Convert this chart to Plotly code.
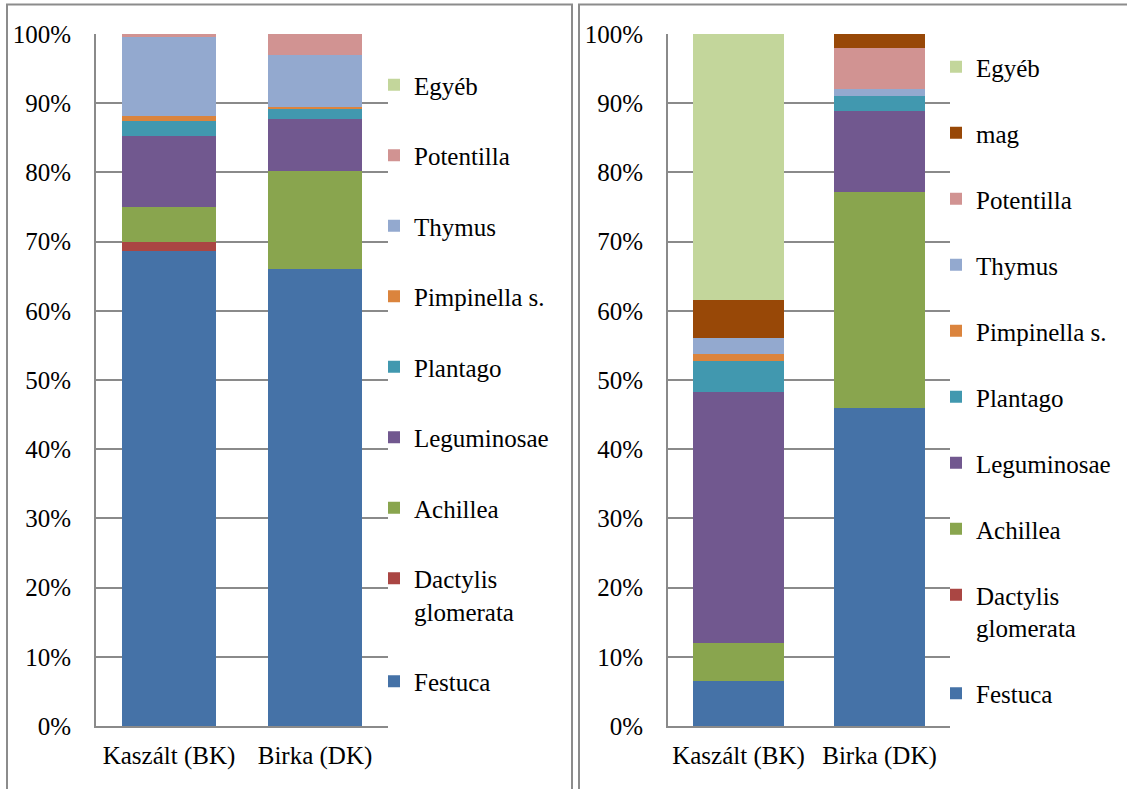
"""Botanical composition: two stacked 100% bar panels."""
import plotly.graph_objects as go

# ---- data (percent of total) ----
categories = ['Kaszált (BK)', 'Birka (DK)']

species_left = ['Festuca', 'Dactylis<br>glomerata', 'Achillea', 'Leguminosae',
                'Plantago', 'Pimpinella s.', 'Thymus', 'Potentilla', 'Egyéb']
left_kaszalt = [68.6, 1.3, 5.1, 10.2, 2.3, 0.7, 11.4, 0.4, 0.0]
left_birka   = [66.1, 0.0, 14.1, 7.5, 1.6, 0.2, 7.4, 3.1, 0.0]

species_right = ['Festuca', 'Dactylis<br>glomerata', 'Achillea', 'Leguminosae',
                 'Plantago', 'Pimpinella s.', 'Thymus', 'Potentilla', 'mag', 'Egyéb']
right_kaszalt = [6.5, 0.0, 5.5, 36.2, 4.5, 1.1, 2.2, 0.0, 5.5, 38.5]
right_birka   = [45.9, 0.0, 31.2, 11.8, 2.1, 0.0, 1.0, 6.0, 2.0, 0.0]

y_ticks = list(range(0, 101, 10))
y_ticklabels = [f'{v}%' for v in y_ticks]

COLORS = {
    'Festuca': '#4572A7', 'Dactylis<br>glomerata': '#AA4643', 'Achillea': '#89A54E',
    'Leguminosae': '#71588F', 'Plantago': '#4198AF', 'Pimpinella s.': '#DB843D',
    'Thymus': '#93A9CF', 'Potentilla': '#D19392', 'mag': '#984807', 'Egyéb': '#C3D69B',
}
FONT = 'Liberation Serif, Times New Roman, serif'
GRID = '#8a8a8a'
W, H = 1127, 789


def px_x(p):
    return p / W


def px_y(p):
    return (H - p) / H


def add_panel(fig, names, v_kasz, v_birka, xa, ya, legend, side):
    n = len(names)
    for i, name in enumerate(names):
        fig.add_trace(go.Bar(
            x=categories, y=[v_kasz[i], v_birka[i]], name=name,
            marker=dict(color=COLORS[name], line=dict(width=0)),
            xaxis=xa, yaxis=ya, legend=legend, legendgroup=f'{side}_{name}',
            legendrank=n - i,
            hovertemplate='%{x}<br>' + name.replace('<br>', ' ') + ': %{y:.1f}%<extra></extra>',
        ))


fig = go.Figure()
add_panel(fig, species_left, left_kaszalt, left_birka, 'x', 'y', 'legend', 'L')
add_panel(fig, species_right, right_kaszalt, right_birka, 'x2', 'y2', 'legend2', 'R')

tick_font = dict(family=FONT, size=25, color='black')
axis_x = dict(showgrid=False, showline=True, linecolor=GRID, linewidth=2,
              tickfont=tick_font, tickangle=0,
              ticks='', ticklabelstandoff=6, fixedrange=True, automargin=False)
axis_y = dict(range=[0, 100], tickvals=y_ticks, ticktext=y_ticklabels,
              showgrid=True, gridcolor=GRID, gridwidth=2, zeroline=False,
              showline=True, linecolor=GRID, linewidth=2, ticks='', tickfont=tick_font,
              ticklabelstandoff=18, fixedrange=True, automargin=False)

legend_common = dict(font=dict(family=FONT, size=25, color='black'),
                     traceorder='grouped', valign='top',
                     bgcolor='rgba(0,0,0,0)', xanchor='left', yanchor='top',
                     itemwidth=30)

fig.update_layout(
    width=W, height=H, margin=dict(l=0, r=0, t=0, b=0, autoexpand=False),
    paper_bgcolor='white', plot_bgcolor='white',
    barmode='stack', bargap=0.35,
    xaxis=dict(axis_x, domain=[px_x(96), px_x(388)], anchor='y'),
    yaxis=dict(axis_y, domain=[px_y(726), px_y(34)], anchor='x'),
    xaxis2=dict(axis_x, domain=[px_x(668), px_x(950)], anchor='y2'),
    yaxis2=dict(axis_y, domain=[px_y(726), px_y(34)], anchor='x2'),
    legend=dict(legend_common, x=px_x(374), y=px_y(62), tracegroupgap=35),
    legend2=dict(legend_common, x=px_x(936), y=px_y(44), tracegroupgap=30.5),
    shapes=[
        dict(type='rect', xref='paper', yref='paper', x0=px_x(7), x1=px_x(572),
             y0=px_y(800), y1=px_y(4.5), line=dict(color='#8c8c8c', width=2)),
        dict(type='rect', xref='paper', yref='paper', x0=px_x(579), x1=px_x(1140),
             y0=px_y(800), y1=px_y(4.5), line=dict(color='#8c8c8c', width=2)),
    ],
)

fig.write_html('out.html', config={'displayModeBar': False},
               post_script="document.body.style.margin='0';")
